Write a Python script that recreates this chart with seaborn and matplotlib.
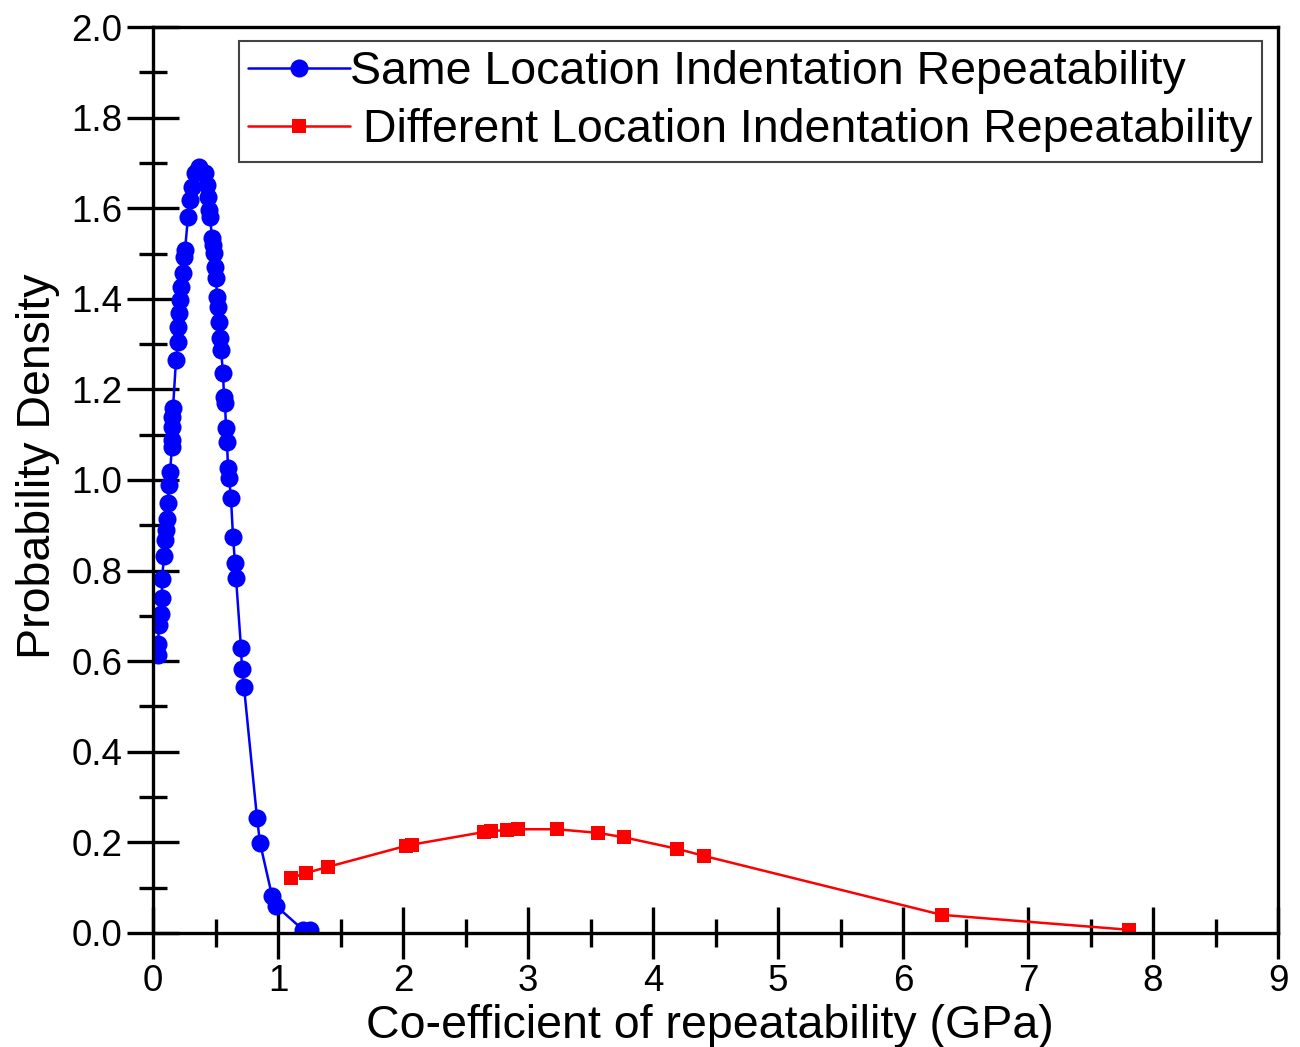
import numpy as np
import pandas as pd
import matplotlib
matplotlib.use("Agg")
import matplotlib.pyplot as plt
from matplotlib.ticker import MultipleLocator, FormatStrFormatter
import seaborn as sns

# ── DATA ───────────────────────────────────────────────────────
same_x = [0.04, 0.04, 0.048, 0.064, 0.072, 0.072, 0.088, 0.096, 0.104, 0.112,
          0.12, 0.128, 0.136, 0.152, 0.152, 0.152, 0.152, 0.16, 0.184, 0.2,
          0.2, 0.208, 0.216, 0.224, 0.24, 0.248, 0.256, 0.28, 0.296, 0.312,
          0.336, 0.368,
          0.416, 0.432, 0.44, 0.448, 0.456, 0.472, 0.48, 0.488, 0.496, 0.504,
          0.512, 0.52, 0.528, 0.536, 0.544, 0.56, 0.568, 0.576, 0.584, 0.592,
          0.6, 0.608, 0.624, 0.64, 0.656, 0.664, 0.704, 0.712, 0.728, 0.832,
          0.856, 0.952, 0.984, 1.2, 1.256]
same_y = [0.614, 0.638, 0.680, 0.704, 0.740, 0.781, 0.832, 0.868, 0.890, 0.914,
          0.949, 0.989, 1.018, 1.073, 1.088, 1.117, 1.139, 1.159, 1.265, 1.305,
          1.338, 1.369, 1.397, 1.426, 1.457, 1.492, 1.508, 1.581, 1.618, 1.647,
          1.678, 1.691,
          1.678, 1.651, 1.625, 1.596, 1.581, 1.534, 1.519, 1.501, 1.470, 1.446,
          1.404, 1.382, 1.349, 1.313, 1.287, 1.236, 1.183, 1.170, 1.115, 1.084,
          1.026, 1.004, 0.960, 0.874, 0.817, 0.784, 0.629, 0.583, 0.543, 0.254,
          0.199, 0.082, 0.060, 0.007, 0.007]

diff_x = [1.10, 1.22, 1.40, 2.02, 2.07, 2.65, 2.70, 2.83, 2.92, 3.23,
          3.56, 3.77, 4.19, 4.41, 6.31, 7.81]
diff_y = [0.121, 0.132, 0.146, 0.192, 0.195, 0.223, 0.225, 0.227, 0.229, 0.229,
          0.221, 0.211, 0.186, 0.170, 0.040, 0.007]

LABELS = ["Same Location Indentation Repeatability",
          " Different Location Indentation Repeatability"]
XLABEL = "Co-efficient of repeatability (GPa)"
YLABEL = "Probability Density"

# ── STYLE ──────────────────────────────────────────────────────
sns.set_theme(style="ticks")
plt.rcParams.update({
    "font.family": ["Liberation Sans", "DejaVu Sans"],
    "axes.linewidth": 2.4,
    "axes.edgecolor": "black",
    "text.color": "black",
    "axes.labelcolor": "black",
    "xtick.color": "black",
    "ytick.color": "black",
})

same = pd.DataFrame({"x": same_x, "y": same_y})
diff = pd.DataFrame({"x": diff_x, "y": diff_y})

fig = plt.figure(figsize=(13, 10.47), dpi=100)
ax = fig.add_axes([0.1177, 0.1089, 0.9831 - 0.1177, 0.9742 - 0.1089])

sns.lineplot(data=same, x="x", y="y", ax=ax, sort=False, estimator=None,
             color="#0000FF", lw=1.8, marker="o", markersize=13,
             markeredgewidth=0, label=LABELS[0])
sns.lineplot(data=diff, x="x", y="y", ax=ax, sort=False, estimator=None,
             color="#FF0000", lw=1.8, marker="s", markersize=10,
             markeredgewidth=0, label=LABELS[1])

ax.set_xlim(0, 9)
ax.set_ylim(0, 2.0)
ax.xaxis.set_major_locator(MultipleLocator(1))
ax.xaxis.set_minor_locator(MultipleLocator(0.5))
ax.yaxis.set_major_locator(MultipleLocator(0.2))
ax.yaxis.set_minor_locator(MultipleLocator(0.1))
ax.yaxis.set_major_formatter(FormatStrFormatter("%.1f"))
ax.tick_params(which="major", direction="inout", length=38, width=2.4,
               labelsize=26.5, pad=3, top=False, right=False)
ax.tick_params(which="minor", direction="inout", length=20, width=2.4,
               top=False, right=False)

ax.set_xlabel(XLABEL, fontsize=33.5)
ax.set_ylabel(YLABEL, fontsize=33.5)
ax.xaxis.label.set_verticalalignment("baseline")
ax.yaxis.label.set_verticalalignment("baseline")
ax.xaxis.set_label_coords(0.495, -0.1159)
ax.yaxis.set_label_coords(-0.0916, 0.5155)

leg = ax.legend(loc="upper right", fontsize=33.5, frameon=True, fancybox=False,
                edgecolor="#444444", framealpha=1, borderpad=0.2,
                handlelength=2.2, handletextpad=0.0, labelspacing=0.3,
                borderaxespad=0.0, bbox_to_anchor=(0.9858, 0.9845))
leg.get_frame().set_linewidth(1.5)

fig.savefig("out.png", dpi=100, facecolor="white")
